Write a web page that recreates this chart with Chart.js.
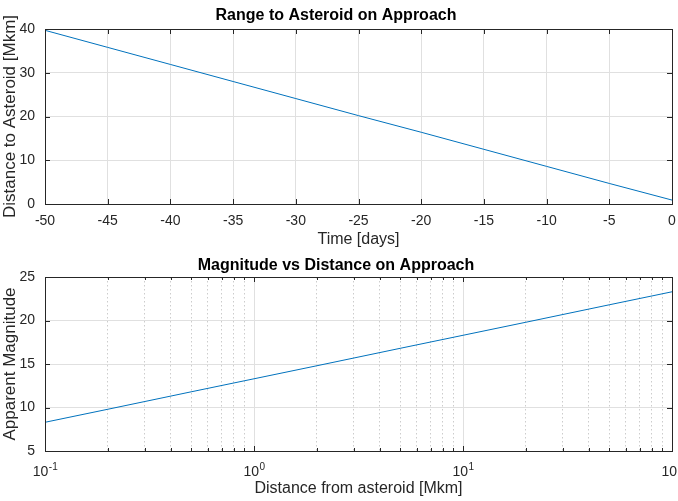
<!DOCTYPE html>
<html>
<head>
<meta charset="utf-8">
<script src="https://cdn.jsdelivr.net/npm/chart.js@4/dist/chart.umd.min.js"></script>
<style>
  html, body { margin: 0; padding: 0; background: #fff; overflow: hidden; }
  canvas { position: absolute; left: 0; }
  #rangeChart { top: 0; }
  #magChart { top: 250px; }
</style>
</head>
<body>
<canvas id="rangeChart" width="678" height="250"></canvas>
<canvas id="magChart" width="678" height="251"></canvas>
<script>
// Data
const days = [-50, -45, -40, -35, -30, -25, -20, -15, -10, -5, 0];
const rangeMkm = [39.7, 35.8, 31.9, 28.0, 24.1, 20.2, 16.4, 12.5, 8.6, 4.7, 0.9];
const rangeTicks = [0, 10, 20, 30, 40];

const distMkm = [0.1, 0.2, 0.5, 1, 2, 5, 10, 20, 50, 100];
const magnitude = [8.3, 9.8, 11.8, 13.3, 14.8, 16.8, 18.3, 19.8, 21.8, 23.3];
const magTicks = [5, 10, 15, 20, 25];
const distTicks = [0.1, 0.2, 0.3, 0.4, 0.5, 0.6, 0.7, 0.8, 0.9,
                   1, 2, 3, 4, 5, 6, 7, 8, 9,
                   10, 20, 30, 40, 50, 60, 70, 80, 90, 100];
// decade labels: base and exponent
const decadeExp = { '0.1': '-1', '1': '0', '10': '1', '100': '2' };

const FONT = '"Liberation Sans", Arial, Helvetica, sans-serif';
Chart.defaults.font.family = FONT;
Chart.defaults.color = '#262626';

const AXIS = '#262626';
const GRID = '#e0e0e0';
const MINOR = '#cccccc';

function isDecade(v) {
  const l = Math.log10(v);
  return Math.abs(l - Math.round(l)) < 1e-9;
}

// box around the axes plus MATLAB style inward ticks, and 10^n labels on log axes
const framePlugin = {
  id: 'frame',
  afterDraw(chart) {
    const { ctx, chartArea: a, scales } = chart;
    const xs = scales.x, ys = scales.y;
    ctx.save();
    ctx.strokeStyle = AXIS;
    ctx.lineWidth = 1;
    ctx.beginPath();
    xs.ticks.forEach(t => {
      const px = Math.round(xs.getPixelForValue(t.value)) + 0.5;
      const len = (xs.type === 'logarithmic' && !isDecade(t.value)) ? 3 : 5;
      ctx.moveTo(px, a.top); ctx.lineTo(px, a.top + len);
      ctx.moveTo(px, a.bottom); ctx.lineTo(px, a.bottom - len);
    });
    ys.ticks.forEach(t => {
      const py = Math.round(ys.getPixelForValue(t.value)) + 0.5;
      ctx.moveTo(a.left, py); ctx.lineTo(a.left + 5, py);
      ctx.moveTo(a.right, py); ctx.lineTo(a.right - 5, py);
    });
    ctx.stroke();
    ctx.strokeRect(a.left + 0.5, a.top + 0.5, a.right - a.left, a.bottom - a.top);

    if (xs.type === 'logarithmic') {
      ctx.fillStyle = AXIS;
      ctx.textBaseline = 'alphabetic';
      ctx.textAlign = 'left';
      xs.ticks.forEach(t => {
        const e = decadeExp[String(t.value)];
        if (e === undefined) return;
        ctx.font = '14px ' + FONT;
        const wb = ctx.measureText('10').width;
        ctx.font = '10px ' + FONT;
        const we = ctx.measureText(e).width;
        const x0 = xs.getPixelForValue(t.value) - (wb + we) / 2;
        ctx.font = '14px ' + FONT;
        ctx.fillText('10', x0, a.bottom + 25);
        ctx.font = '10px ' + FONT;
        ctx.fillText(e, x0 + wb + 0.5, a.bottom + 19);
      });
    }
    ctx.restore();
  }
};

function fixX(h) {
  return scale => { scale.height = h; scale.paddingLeft = 0; scale.paddingRight = 0; };
}
function fixY(scale) {
  scale.width = 45; scale.paddingTop = 0; scale.paddingBottom = 0;
}

// Range to asteroid
new Chart(document.getElementById('rangeChart'), {
  type: 'line',
  data: {
    datasets: [{
      data: days.map((d, i) => ({ x: d, y: rangeMkm[i] })),
      borderColor: '#0072BD',
      borderWidth: 1,
      pointRadius: 0,
      fill: false,
      tension: 0
    }]
  },
  options: {
    responsive: false,
    animation: false,
    layout: { padding: { left: 0, right: 6, top: 0, bottom: 0 } },
    plugins: {
      legend: { display: false },
      tooltip: { enabled: false },
      title: {
        display: true,
        text: 'Range to Asteroid on Approach',
        color: '#000',
        font: { size: 16, weight: 'bold' },
        padding: { top: 6.4, bottom: 3.4 }
      }
    },
    scales: {
      x: {
        type: 'linear',
        min: -50, max: 0,
        ticks: { stepSize: 5, autoSkip: false, maxRotation: 0, padding: 8.6, font: { size: 14 }, color: AXIS },
        grid: { color: GRID, drawTicks: false },
        border: { display: false },
        title: { display: true, text: 'Time [days]', font: { size: 16 }, color: AXIS, padding: { top: 0, bottom: 0.9 } },
        afterFit: fixX(46)
      },
      y: {
        min: 0, max: 40,
        afterBuildTicks: s => { s.ticks = rangeTicks.map(v => ({ value: v })); },
        ticks: { padding: 10, font: { size: 14 }, color: AXIS },
        grid: { color: GRID, drawTicks: false },
        border: { display: false },
        title: { display: true, text: 'Distance to Asteroid [Mkm]', font: { size: 17 }, color: AXIS, padding: { top: 0, bottom: 0 } },
        afterFit: fixY
      }
    }
  },
  plugins: [framePlugin]
});

// Magnitude vs distance
new Chart(document.getElementById('magChart'), {
  type: 'line',
  data: {
    datasets: [{
      data: distMkm.map((d, i) => ({ x: d, y: magnitude[i] })),
      borderColor: '#0072BD',
      borderWidth: 1,
      pointRadius: 0,
      fill: false,
      tension: 0
    }]
  },
  options: {
    responsive: false,
    animation: false,
    layout: { padding: { left: 0, right: 6, top: 0, bottom: 0 } },
    plugins: {
      legend: { display: false },
      tooltip: { enabled: false },
      title: {
        display: true,
        text: 'Magnitude vs Distance on Approach',
        color: '#000',
        font: { size: 16, weight: 'bold' },
        padding: { top: 5.9, bottom: 1.9 }
      }
    },
    scales: {
      x: {
        type: 'logarithmic',
        min: 0.1, max: 100,
        afterBuildTicks: s => { s.ticks = distTicks.map(v => ({ value: v })); },
        ticks: { autoSkip: false, maxRotation: 0, font: { size: 14 }, color: AXIS, callback: () => '' },
        grid: {
          color: ctx => (ctx.tick && isDecade(ctx.tick.value)) ? GRID : MINOR,
          drawTicks: false
        },
        border: {
          display: false,
          dash: ctx => (ctx.tick && isDecade(ctx.tick.value)) ? [] : [1.5, 2.5]
        },
        title: { display: true, text: 'Distance from asteroid [Mkm]', font: { size: 16 }, color: AXIS, padding: { top: 0, bottom: 2.8 } },
        afterFit: fixX(50)
      },
      y: {
        min: 5, max: 25,
        afterBuildTicks: s => { s.ticks = magTicks.map(v => ({ value: v })); },
        ticks: { padding: 10, font: { size: 14 }, color: AXIS },
        grid: { color: GRID, drawTicks: false },
        border: { display: false },
        title: { display: true, text: 'Apparent Magnitude', font: { size: 17 }, color: AXIS, padding: { top: 0, bottom: 0 } },
        afterFit: fixY
      }
    }
  },
  plugins: [framePlugin]
});
</script>
</body>
</html>
